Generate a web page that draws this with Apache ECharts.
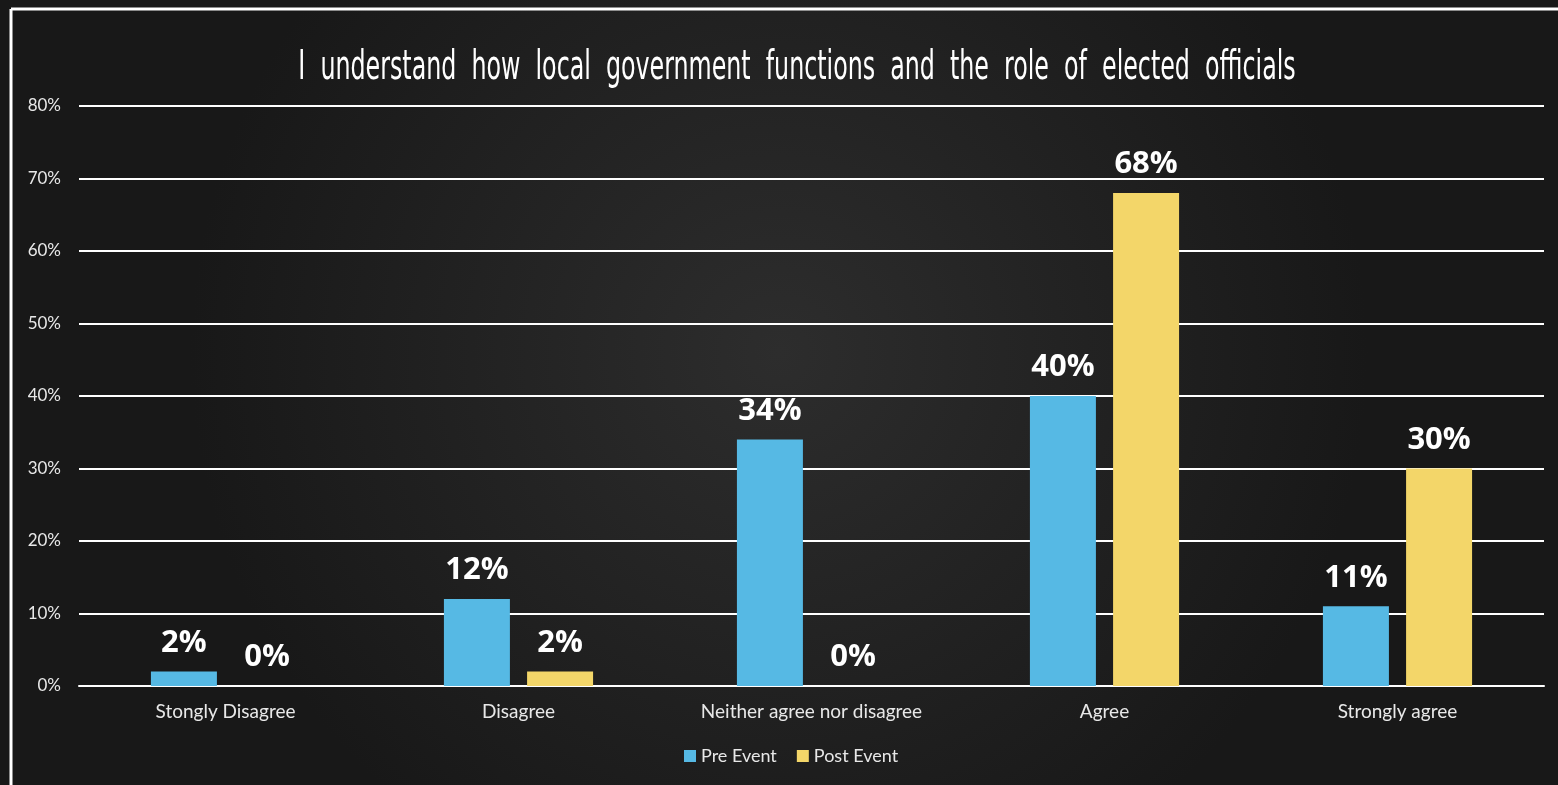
<!DOCTYPE html>
<html>
<head>
<meta charset="utf-8">
<script src="https://cdn.jsdelivr.net/npm/echarts@6/dist/echarts.min.js"></script>
<style>
html,body{margin:0;padding:0;background:#1c1c1c;}
#chart{width:1558px;height:785px;}
</style>
</head>
<body>
<div id="chart"></div>
<script>
const titleText = 'I  understand  how  local  government  functions  and  the  role  of  elected  officials';
const categories = ['Stongly Disagree', 'Disagree', 'Neither agree nor disagree', 'Agree', 'Strongly agree'];
const preEvent = [2, 12, 34, 40, 11];
const postEvent = [0, 2, 0, 68, 30];
const seriesNames = ['Pre Event', 'Post Event'];
const yTicks = [0, 10, 20, 30, 40, 50, 60, 70, 80];

const chart = echarts.init(document.getElementById('chart'));
const labelStyle = {
  show: true, position: 'top', distance: 13,
  color: '#ffffff', fontSize: 31, fontWeight: 'bold',
  fontFamily: 'Open Sans, Lato, sans-serif',
  formatter: p => p.value + '%'
};
chart.setOption({
  backgroundColor: {
    type: 'radial', x: 0.5, y: 0.45, r: 0.75,
    colorStops: [{offset: 0, color: '#2d2d2d'}, {offset: 1, color: '#181818'}]
  },
  graphic: [
    {type: 'line', shape: {x1: 11, y1: 9, x2: 1558, y2: 9}, style: {stroke: '#ffffff', lineWidth: 3}},
    {type: 'line', shape: {x1: 11, y1: 9, x2: 11, y2: 785}, style: {stroke: '#ffffff', lineWidth: 3}},
    {type: 'text', x: 797, y: 69, scaleX: 0.66, originX: 0, originY: 0,
     style: {text: titleText, fill: '#ffffff', fontSize: 40,
       fontFamily: 'DejaVu Sans Condensed, DejaVu Sans, sans-serif',
       textAlign: 'center', textVerticalAlign: 'middle'}}
  ],
  legend: {
    data: seriesNames, bottom: 15, left: 679, itemWidth: 12, itemHeight: 12, itemGap: 20,
    icon: 'rect',
    textStyle: {color: '#e8e8e8', fontSize: 18, fontFamily: 'Lato, Open Sans, sans-serif'}
  },
  grid: {left: 79, right: 14, top: 106, bottom: 99, containLabel: false},
  xAxis: {
    type: 'category', data: categories,
    axisLine: {lineStyle: {color: '#ffffff', width: 2}},
    axisTick: {show: false},
    axisLabel: {color: '#e8e8e8', fontSize: 19, margin: 16, fontFamily: 'Lato, Open Sans, sans-serif'}
  },
  yAxis: {
    type: 'value', min: yTicks[0], max: yTicks[yTicks.length - 1], interval: 10,
    axisLine: {show: false}, axisTick: {show: false},
    axisLabel: {color: '#e8e8e8', fontSize: 17, margin: 18, formatter: '{value}%', fontFamily: 'Lato, Open Sans, sans-serif'},
    splitLine: {lineStyle: {color: '#ffffff', width: 2}}
  },
  series: [
    {name: seriesNames[0], type: 'bar', data: preEvent, barWidth: 66, barGap: '26%',
     itemStyle: {color: '#56b9e4'}, label: labelStyle},
    {name: seriesNames[1], type: 'bar', data: postEvent, barWidth: 66,
     itemStyle: {color: '#f3d669'}, label: labelStyle}
  ]
});
</script>
</body>
</html>
